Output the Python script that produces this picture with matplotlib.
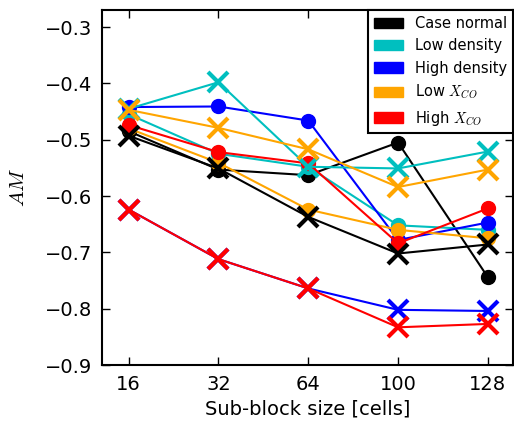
import numpy as np
import matplotlib
matplotlib.use('Agg')
import matplotlib.pyplot as plt
import matplotlib.patches as mpatches

plt.rcParams['mathtext.fontset'] = 'cm'

sizes = ['16', '32', '64', '100', '128']
labels = ['Case normal', 'Low density', 'High density', 'Low $X_{CO}$', 'High $X_{CO}$']
colors = ['black', 'c', 'b', 'orange', 'r']

# values marked with circles
circ_normal = [-0.485, -0.553, -0.563, -0.505, -0.744]
circ_lowdens = [-0.455, -0.525, -0.548, -0.652, -0.660]
circ_highdens = [-0.442, -0.441, -0.466, -0.678, -0.647]
circ_lowx = [-0.480, -0.541, -0.624, -0.660, -0.675]
circ_highx = [-0.474, -0.522, -0.542, -0.684, -0.622]

# values marked with crosses
x_normal = [-0.493, -0.551, -0.637, -0.702, -0.686]
x_lowdens = [-0.445, -0.398, -0.548, -0.551, -0.521]
x_highdens = [-0.624, -0.712, -0.764, -0.802, -0.804]
x_lowx = [-0.447, -0.479, -0.517, -0.584, -0.553]
x_highx = [-0.624, -0.712, -0.764, -0.833, -0.827]

circles = [circ_normal, circ_lowdens, circ_highdens, circ_lowx, circ_highx]
crosses = [x_normal, x_lowdens, x_highdens, x_lowx, x_highx]

fig = plt.figure(figsize=(5.14, 4.23), dpi=100)
ax = fig.add_axes([0.198, 0.137, 0.800, 0.839])

pos = np.arange(len(sizes))
for c, vals in zip(colors, circles):
    ax.plot(pos, vals, '-o', color=c, lw=1.5, ms=10, mec=c)
for c, vals in zip(colors, crosses):
    ax.plot(pos, vals, '-x', color=c, lw=1.5, ms=15, mew=3)

ax.set_xlim(-0.3, 4.28)
ax.set_ylim(-0.9, -0.27)
ax.set_xticks(pos)
ax.set_xticklabels(sizes)
ax.set_yticks(np.arange(-0.9, -0.25, 0.1))
ax.tick_params(direction='in', length=6, width=1, labelsize=14, pad=7,
               top=True, right=True)
for s in ax.spines.values():
    s.set_linewidth(1.5)

ax.set_xlabel('Sub-block size [cells]', fontsize=14)
ax.set_ylabel('$AM$', fontsize=15, labelpad=12)

handles = [mpatches.Patch(color=c, label=l) for c, l in zip(colors, labels)]
leg = ax.legend(handles=handles, loc='upper right', fontsize=10.5, borderaxespad=0,
                fancybox=False, framealpha=1, edgecolor='black')
leg.get_frame().set_linewidth(1.5)

fig.savefig('out.png', dpi=100)
